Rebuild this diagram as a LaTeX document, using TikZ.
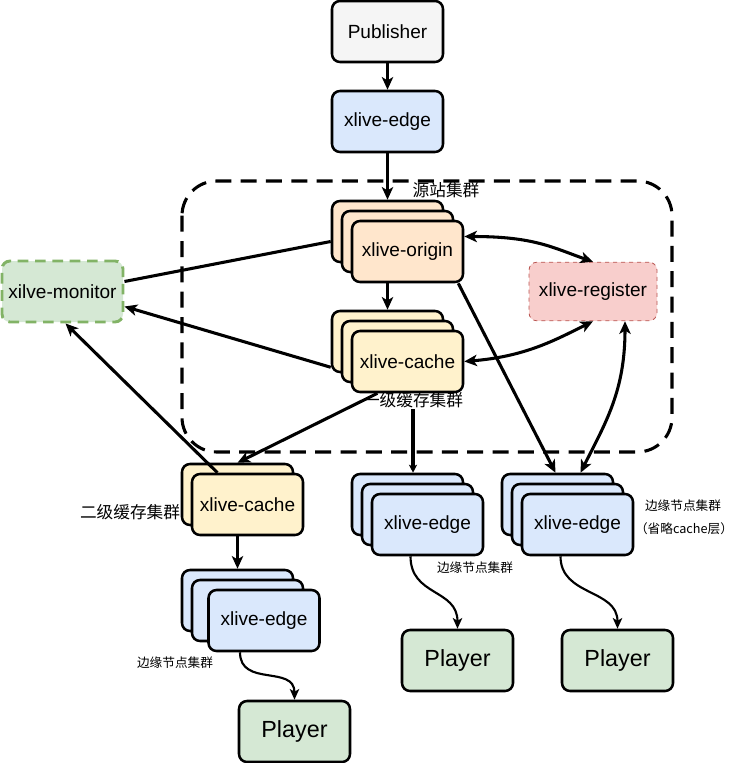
\documentclass[tikz,border=0pt]{standalone}
\usepackage{fontspec}
\setmainfont{Liberation Sans}
\newfontfamily\cjk{Noto Sans CJK SC}
\usetikzlibrary{arrows.meta,calc,positioning}
\definecolor{pubfill}{HTML}{F5F5F5}
\definecolor{edgefill}{HTML}{DAE8FC}
\definecolor{originfill}{HTML}{FFE6CC}
\definecolor{cachefill}{HTML}{FFF2CC}
\definecolor{greenfill}{HTML}{D5E8D4}
\definecolor{greenline}{HTML}{82B366}
\definecolor{redfill}{HTML}{F8CECC}
\definecolor{redline}{HTML}{B85450}

\begin{document}
\begin{tikzpicture}[x=0.75pt,y=-0.75pt,
  box/.style={draw,line width=1.9pt,rounded corners=6pt,minimum width=83.25pt,minimum height=45.75pt,inner sep=0pt,font=\fontsize{14.3}{16}\selectfont},
  pubbox/.style={box,fill=pubfill},
  edgebox/.style={box,fill=edgefill},
  originbox/.style={box,fill=originfill},
  cachebox/.style={box,fill=cachefill},
  playerbox/.style={box,fill=greenfill,font=\fontsize{17.5}{20}\selectfont},
  cjklabel/.style={font=\cjk\fontsize{12.5}{15}\selectfont,inner sep=1pt},
  smalllabel/.style={font=\cjk\fontsize{9.5}{12}\selectfont,inner sep=1pt},
  tip/.tip={Stealth[length=9.5pt,width=8.5pt,inset=2.5pt]},
  arr/.style={line width=2.3pt,-tip},
  biarr/.style={line width=2.3pt,tip-tip},
  thinarr/.style={line width=1.6pt,-{Stealth[length=8pt,width=7pt,inset=2pt]}}]

  \useasboundingbox (0,0) rectangle (745,763);

  % origin cluster frame
  \draw[line width=2.3pt,dash pattern=on 12pt off 7pt,rounded corners=26pt] (182,181) rectangle (672,452);

  \node[pubbox] (pub) at (387.5,31.5) {Publisher};
  \node[edgebox] (edge0) at (387.5,121.5) {xlive-edge};

  \node[originbox] (originC) at (387.5,231.5) {};
  \node[originbox] (originB) at (397.5,241.5) {};
  \node[originbox] (originA) at (407.5,251.5) {xlive-origin};

  \node[cachebox] (cacheC) at (387.5,341.5) {};
  \node[cachebox] (cacheB) at (397.5,351.5) {};
  \node[cachebox] (cacheA) at (407.5,361.5) {xlive-cache};

  \node[box,fill=redfill,draw=redline,line width=0.6pt,dashed,minimum width=96pt,minimum height=44pt] (register) at (593,291.5) {xlive-register};
  \node[box,fill=greenfill,draw=greenline,line width=2.2pt,dash pattern=on 8pt off 5pt,minimum width=90.75pt] (monitor) at (62.5,291.5) {xilve-monitor};

  \node[cachebox] (cache2B) at (237.5,494.5) {};
  \node[cachebox] (cache2A) at (247.5,504.5) {xlive-cache};

  \node[edgebox] (edgeLC) at (237.5,600.5) {};
  \node[edgebox] (edgeLB) at (247.5,610.5) {};
  \node[edgebox] (edgeLA) at (264,620.5) {xlive-edge};

  \node[edgebox] (edgeMC) at (407.5,504.5) {};
  \node[edgebox] (edgeMB) at (417.5,514.5) {};
  \node[edgebox] (edgeMA) at (427.5,524.5) {xlive-edge};

  \node[edgebox] (edgeRC) at (557.5,504.5) {};
  \node[edgebox] (edgeRB) at (567.5,514.5) {};
  \node[edgebox] (edgeRA) at (577.5,524.5) {xlive-edge};

  \node[playerbox] (playerL) at (294.5,731.5) {Player};
  \node[playerbox] (playerM) at (457.5,660.5) {Player};
  \node[playerbox] (playerR) at (617.5,660.5) {Player};

  % cluster labels
  \node[cjklabel] (srclabel) at (446,190) {源站集群};
  \node[cjklabel] (l1label) at (413,400) {一级缓存集群};
  \node[cjklabel] (l2label) at (130,512) {二级缓存集群};
  \node[smalllabel] (edgelabelL) at (175,663) {边缘节点集群};
  \node[smalllabel] (edgelabelM) at (475,568) {边缘节点集群};
  \node[smalllabel] (edgelabelR) at (683,506) {边缘节点集群};
  \node[smalllabel] (omitlabel) at (684,529) {（省略cache层）};

  % connectors
  \draw[arr] (pub) -- (edge0);
  \draw[arr] (edge0) -- (originC.north);
  \draw[arr] (originA.south -| cacheC.north) -- (cacheC.north);
  \draw[biarr] ($(originA.east)+(0,-15)$) .. controls +(70,0) and +(-40,-14) .. (register.north);
  \draw[biarr] (cacheA.east) .. controls +(60,-5) and +(-40,20) .. (register.south);
  \draw[biarr] ($(register.south)+(32,0)$) .. controls +(0,70) and +(25,-50) .. ($(edgeRC.north)+(23,0)$);
  \draw[arr] ($(originA.south east)+(-6,0)$) -- ($(edgeRC.north)+(-2,0)$);
  \draw[line width=2.3pt] ($(monitor.east)+(0,-10)$) -- ($(originC.west)+(0,10)$);
  \draw[arr] ($(cacheC.south west)+(0,-6)$) -- ($(monitor.east)+(0,15)$);
  \draw[arr] ($(cache2A.north)+(-30,0)$) -- ($(monitor.south)+(3,0)$);
  \draw[arr] ($(cacheA.south)+(-30,0)$) -- (cache2B.north);
  \draw[line width=2.3pt,-{Stealth[length=6pt,width=6pt,inset=1.5pt]}] (l1label.south) -- (l1label.south |- edgeMC.north);
  \draw[arr] (cache2A.south -| edgeLC.north) -- (edgeLC.north);
  \draw[thinarr] ($(edgeLA.south)+(-24,0)$) .. controls +(0,35) and +(0,-35) .. (playerL.north);
  \draw[thinarr] ($(edgeMA.south)+(-17,0)$) .. controls +(0,40) and +(0,-40) .. (playerM.north);
  \draw[thinarr] ($(edgeRA.south)+(-17,0)$) .. controls +(0,40) and +(0,-40) .. (playerR.north);
\end{tikzpicture}
\end{document}
